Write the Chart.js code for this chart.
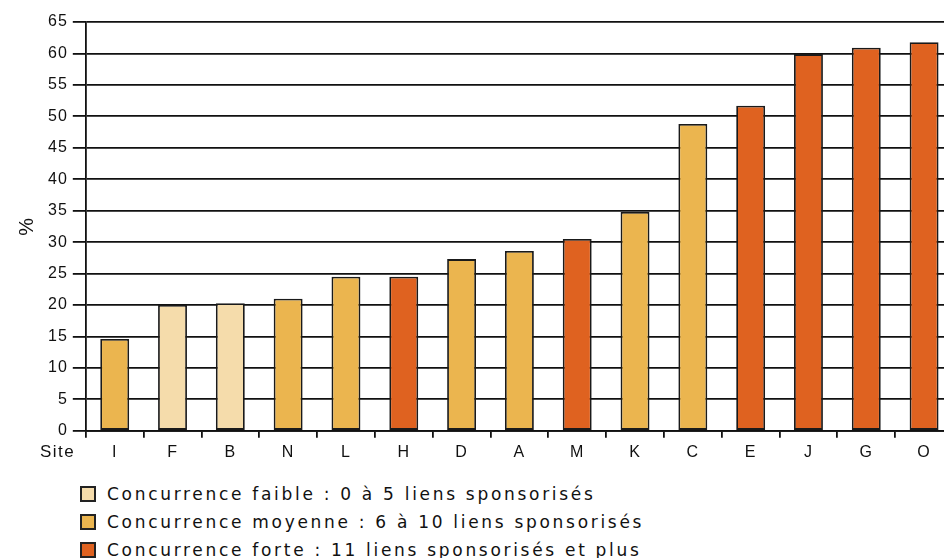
<!DOCTYPE html>
<html>
<head>
<meta charset="utf-8">
<script src="https://cdn.jsdelivr.net/npm/chart.js@4"></script>
<style>
  html, body { margin: 0; padding: 0; background: #fff; overflow: hidden; }
  #wrap { position: relative; width: 944px; height: 558px; overflow: hidden; }
  #box { position: absolute; left: 0; top: 0; width: 960px; height: 475px; }
  #legend { position: absolute; left: 80px; top: 480px; font-family: "DejaVu Sans", Verdana, sans-serif; font-size: 17px; letter-spacing: 2.7px; color: #111; }
  #legend div { height: 28px; display: flex; align-items: center; }
  #legend span.sw { display: inline-block; box-sizing: border-box; width: 16px; height: 16px; border: 2px solid #222; margin-right: 11px; }
</style>
</head>
<body>
<div id="wrap">
  <div id="box"><canvas id="chart"></canvas></div>
  <div id="legend"></div>
</div>
<script>
const sites = ["I", "F", "B", "N", "L", "H", "D", "A", "M", "K", "C", "E", "J", "G", "O"]
const values = [14.6, 20.0, 20.3, 21.0, 24.5, 24.5, 27.3, 28.6, 30.5, 34.8, 48.8, 51.7, 59.9, 60.9, 61.8]
// niveau de concurrence de chaque site : 0 faible, 1 moyenne, 2 forte
const level = [1, 0, 0, 1, 1, 2, 1, 1, 2, 1, 1, 2, 2, 2, 2]
const levelNames = [
  "Concurrence faible : 0 à 5 liens sponsorisés",
  "Concurrence moyenne : 6 à 10 liens sponsorisés",
  "Concurrence forte : 11 liens sponsorisés et plus"
]
const levelColors = ["#F5DCAB", "#EBB54F", "#DF6220"]
const yTicks = { min: 0, max: 65, step: 5 }

const tickFont = { family: "'Liberation Sans', Arial, sans-serif", size: 16 }

const datasets = levelNames.map((name, k) => ({
  label: name,
  data: values.map((v, i) => level[i] === k ? v : null),
  backgroundColor: levelColors[k],
  borderColor: "#1a1a1a",
  borderWidth: 1.8,
  borderSkipped: false,
  grouped: false,
  barPercentage: 0.5,
  categoryPercentage: 1
}))

// espacement des lettres comme sur l'image d'origine
const spacing = {
  id: "spacing",
  beforeUpdate(chart) { chart.ctx.letterSpacing = "1px" },
  beforeDraw(chart) { chart.ctx.letterSpacing = "1px" }
}

const siteLabel = {
  id: "siteLabel",
  afterDraw(chart) {
    const ctx = chart.ctx
    ctx.save()
    ctx.font = "17px 'Liberation Sans', Arial, sans-serif"
    ctx.letterSpacing = "1.5px"
    ctx.fillStyle = "#111"
    ctx.textAlign = "left"
    ctx.textBaseline = "middle"
    ctx.fillText("Site", 40, chart.chartArea.bottom + 22)
    ctx.restore()
  }
}

const chart = new Chart(document.getElementById("chart"), {
  type: "bar",
  data: { labels: sites, datasets: datasets },
  plugins: [spacing, siteLabel],
  options: {
    responsive: true,
    maintainAspectRatio: false,
    animation: false,
    layout: { padding: { top: 22, right: 7, bottom: 8, left: 11 } },
    plugins: { legend: { display: false }, tooltip: { enabled: false } },
    scales: {
      x: {
        grid: { drawOnChartArea: false, drawTicks: true, tickLength: 7, color: "#111", lineWidth: 1.8 },
        border: { display: true, color: "#111", width: 1.8 },
        ticks: { color: "#111", font: tickFont, padding: 5 }
      },
      y: {
        min: yTicks.min,
        max: yTicks.max,
        ticks: { stepSize: yTicks.step, color: "#111", font: tickFont, padding: 5 },
        grid: { color: "#111", lineWidth: 1.8, tickLength: 13 },
        border: { color: "#111", width: 1.8 },
        title: { display: true, text: "%", color: "#111", font: { family: "'Liberation Sans', Arial, sans-serif", size: 20 }, padding: 4 }
      }
    }
  }
})

const legend = document.getElementById("legend")
chart.data.datasets.forEach(ds => {
  const row = document.createElement("div")
  const sw = document.createElement("span")
  sw.className = "sw"
  sw.style.background = ds.backgroundColor
  row.appendChild(sw)
  row.appendChild(document.createTextNode(ds.label))
  legend.appendChild(row)
})
</script>
</body>
</html>
